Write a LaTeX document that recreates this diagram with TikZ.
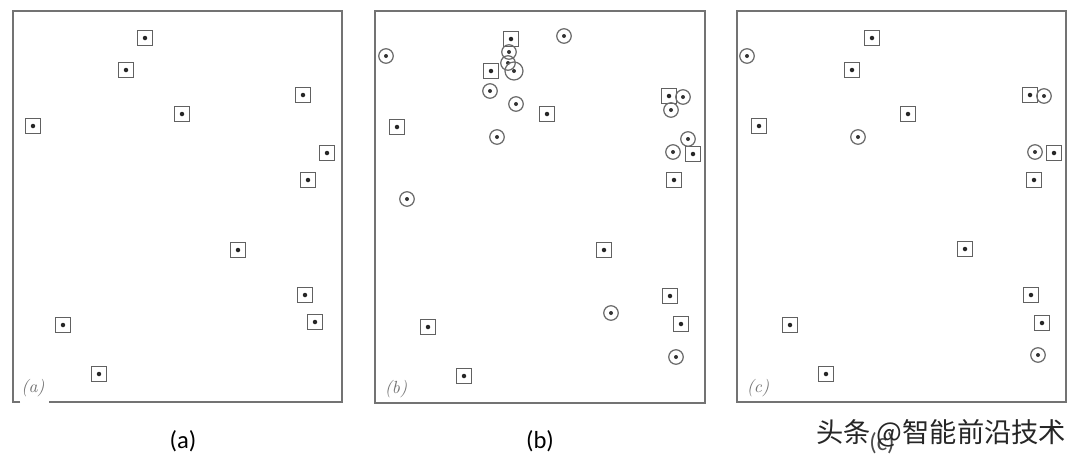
\documentclass[tikz,border=0pt]{standalone}
\usepackage{fontspec}
\setmainfont{Carlito}
\newfontfamily\cjk{Noto Sans CJK SC}
\newfontfamily\lmserif{Latin Modern Roman}
\begin{document}
\begin{tikzpicture}[x=0.02cm,y=-0.02cm,
  frame/.style={draw=black!55,line width=1pt},
  sq/.style={draw=black!62,line width=0.8pt,minimum size=0.3cm,inner sep=0pt,
    path picture={\fill[black!85] (path picture bounding box.center) circle (0.045cm);}},
  cir/.style={circle,draw=black!58,line width=0.7pt,minimum size=0.29cm,inner sep=0pt,
    path picture={\fill[black!80] (path picture bounding box.center) circle (0.04cm);}},
  plab/.style={text=black!55,font=\lmserif\itshape\fontsize{10}{11}\selectfont,inner sep=0pt},
  captxt/.style={font=\fontsize{14}{15}\selectfont,inner sep=0pt},
]
\useasboundingbox (0,0) rectangle (1080,461);
\fill[white] (0,0) rectangle (1080,461);
% ---------- panel (a)
\coordinate (aTL) at (13,11);
\coordinate (aTR) at (342,11);
\coordinate (aBR) at (342,402);
\coordinate (aBL) at (13,402);
\coordinate (aG1) at (20,402);
\coordinate (aG2) at (49,402);
\draw[frame] (aG1) -- (aBL) -- (aTL) -- (aTR) -- (aBR) -- (aG2);
\foreach \x/\y [count=\i] in {145/38,126/70,303/95,182/114,33/126,327/153,308/180,238/250,305/295,315/322,63/325,99/374}
  \node[sq] (a\i) at (\x,\y) {};
\node[plab] (alab) at (33,388) {(a)};
\node[captxt] (acap) at (183,441) {(a)};
% ---------- panel (b)
\draw[frame] (375,11) rectangle (705,403);
\foreach \x/\y [count=\i] in {511/39,491/71,669/96,547/114,397/127,693/154,674/180,604/250,670/296,681/324,428/327,464/376}
  \node[sq] (b\i) at (\x,\y) {};
\foreach \x/\y [count=\i] in {386/56,564/36,509/52,508/63,490/91,516/104,683/97,671/110,497/137,688/139,673/152,407/199,611/313,676/357}
  \node[cir] (bc\i) at (\x,\y) {};
\node[cir,minimum size=0.36cm] (bc15) at (514,71) {};
\node[plab] (blab) at (396,389) {(b)};
\node[captxt] (bcap) at (540,441) {(b)};
% ---------- panel (c)
\draw[frame] (737,11) rectangle (1066,402);
\foreach \x/\y [count=\i] in {872/38,852/70,1030/95,908/114,759/126,1054/153,1034/180,965/249,1031/295,1042/323,790/325,826/374}
  \node[sq] (c\i) at (\x,\y) {};
\foreach \x/\y [count=\i] in {747/56,1044/96,858/137,1035/152,1038/355}
  \node[cir] (cc\i) at (\x,\y) {};
\node[plab] (clab) at (758,388) {(c)};
\node[captxt,text=black!70] (ccap) at (882,443) {(c)};
\node[font=\cjk\fontsize{15.5}{16}\selectfont,anchor=west,inner sep=0pt,text=black!85] (wm) at (816,433) {头条 @智能前沿技术};
\end{tikzpicture}
\end{document}
